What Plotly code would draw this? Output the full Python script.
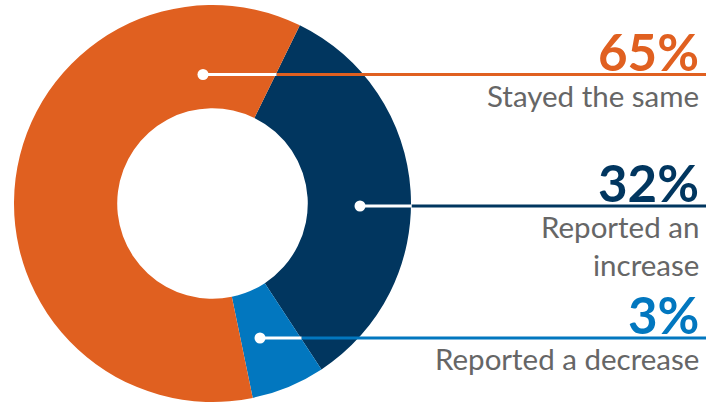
import plotly.graph_objects as go

W, H = 719, 402

# Data
categories = ["Reported an increase", "Reported a decrease", "Stayed the same"]
slice_values = [33.5, 6.0, 60.5]
pct_labels = ["32%", "3%", "65%"]
desc_labels = ["Reported an<br>increase", "Reported a decrease", "Stayed the same"]
colors = ["#01365F", "#0277BF", "#E06020"]

# Layout helpers (pixels -> paper)
def px(x):
    return x / W

def py(y):
    return 1 - y / H

fig = go.Figure(go.Pie(
    labels=categories,
    values=slice_values,
    hole=0.48,
    sort=False,
    direction="clockwise",
    rotation=26.1,
    marker=dict(colors=colors, line=dict(width=0)),
    textinfo="none",
    hoverinfo="label+percent",
    domain=dict(x=[px(13.5), px(411.5)], y=[py(402), py(5)]),
    showlegend=False,
))

# leader lines: (dot x, line y, white end x, color)
leaders = [
    (360, 206, 411.5, colors[0]),
    (260, 338, 301.5, colors[1]),
    (203, 74.5, 276.5, colors[2]),
]
line_end = 706
shapes = []
for dx, ly, wx, col in leaders:
    shapes.append(dict(type="line", xref="paper", yref="paper",
                       x0=px(wx), x1=px(line_end), y0=py(ly), y1=py(ly),
                       line=dict(color=col, width=3)))
    shapes.append(dict(type="line", xref="paper", yref="paper",
                       x0=px(dx), x1=px(wx), y0=py(ly), y1=py(ly),
                       line=dict(color="white", width=3)))
    shapes.append(dict(type="circle", xref="paper", yref="paper",
                       x0=px(dx - 5.5), x1=px(dx + 5.5), y0=py(ly - 5.5), y1=py(ly + 5.5),
                       fillcolor="white", line=dict(width=0)))

annotations = []
pct_font = "Lato"
txt_font = "Lato"
for (dx, ly, wx, col), pct, desc in zip(leaders, pct_labels, desc_labels):
    annotations.append(dict(xref="paper", yref="paper", x=px(701), y=py(ly + 9),
                            xanchor="right", yanchor="bottom", text=f"<b>{pct}</b>",
                            showarrow=False,
                            font=dict(family=pct_font, size=51, color=col)))
    annotations.append(dict(xref="paper", yref="paper", x=px(701),
                            y=py(ly + 1),
                            xanchor="right", yanchor="top", text=desc, align="right",
                            showarrow=False,
                            font=dict(family=txt_font, size=29.5, color="#666666")))

fig.update_layout(
    width=W, height=H,
    margin=dict(l=0, r=0, t=0, b=0),
    paper_bgcolor="white", plot_bgcolor="white",
    shapes=shapes, annotations=annotations,
)

fig.write_html("out.html")
